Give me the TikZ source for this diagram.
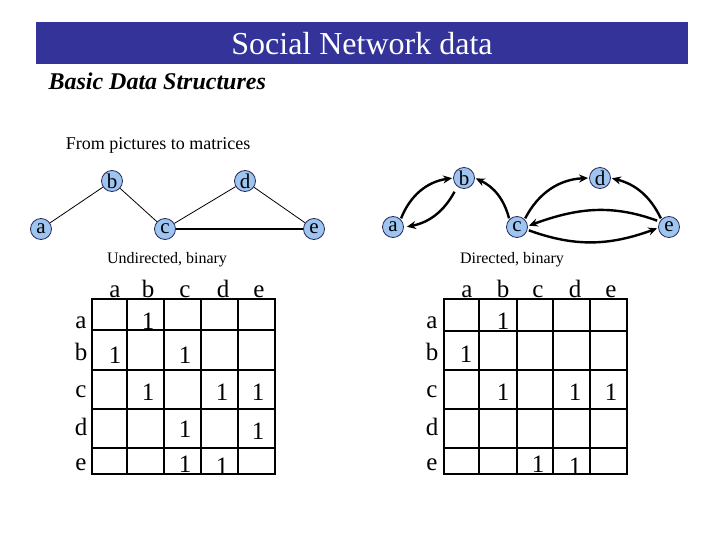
\documentclass[tikz,border=0pt]{standalone}
\usepackage{fontspec}
\setmainfont{Liberation Serif}
\usetikzlibrary{arrows.meta}
\definecolor{banner}{RGB}{51,51,153}
\definecolor{nodefill}{RGB}{158,197,240}
\definecolor{nodeedge}{RGB}{40,40,90}
\tikzset{
  vert/.style={circle,draw=nodeedge,line width=0.8pt,fill=nodefill,minimum size=21pt,inner sep=0pt,font=\fontsize{21}{21}\selectfont},
  uedge/.style={line width=0.8pt,black},
  darrow/.style={line width=2.4pt,black,-{Stealth[length=9pt,width=8pt]},shorten >=1pt,shorten <=1pt},
  mlabel/.style={font=\fontsize{25}{25}\selectfont,inner sep=0pt,anchor=base},
  mone/.style={font=\fontsize{25}{25}\selectfont,inner sep=0pt,anchor=base},
  grid/.style={line width=1.1pt,black}
}
\begin{document}
\begin{tikzpicture}[x=1pt,y=-1pt]
\useasboundingbox (0,0) rectangle (720,540);
% banner
\fill[banner] (36,22) rectangle (688,64);
\node[text=white,font=\fontsize{32}{32}\selectfont] (title) at (362,44) {Social Network data};
\node[font=\fontsize{24}{24}\selectfont\bfseries\itshape,anchor=west] (sub) at (45,81) {Basic Data Structures};
\node[font=\fontsize{18}{18}\selectfont] (from) at (158,145) {From pictures to matrices};
% undirected graph
\node[vert] (ua) at (41,229) {a};
\node[vert] (ub) at (112,181) {b};
\node[vert] (uc) at (165,229) {c};
\node[vert] (ud) at (245,181) {d};
\node[vert] (ue) at (314,229) {e};
\draw[uedge] (ua) -- (ub);
\draw[uedge] (ub) -- (uc);
\draw[uedge] (uc) -- (ud);
\draw[uedge] (ud) -- (ue);
\draw[uedge,line width=1.2pt] (uc) -- (ue);
\node[font=\fontsize{16}{16}\selectfont] (ulab) at (167,260) {Undirected, binary};
% directed graph
\node[vert] (da) at (393,227) {a};
\node[vert] (db) at (464,178) {b};
\node[vert] (dc) at (517,227) {c};
\node[vert] (dd) at (600,178) {d};
\node[vert] (de) at (669,227) {e};
\draw[darrow] (da.north east) to[bend left=30] (db.west);
\draw[darrow] ([xshift=-9pt,yshift=-2pt]db.south) to[bend left=25] ([xshift=2pt]da.east);
\draw[darrow] (dc.north west) to[bend right=25] (db.east);
\draw[darrow] (dc.north east) to[bend left=30] (dd.west);
\draw[darrow] (de.north west) to[bend right=25] (dd.east);
\draw[darrow] ([yshift=6pt]de.west) to[out=160,in=20] ([yshift=1pt]dc.east);
\draw[darrow] ([yshift=-3pt]dc.east) to[out=-20,in=200] ([yshift=-1pt]de.west);
\node[font=\fontsize{16}{16}\selectfont] (dlab) at (512,260) {Directed, binary};
% undirected matrix
\draw[grid] (92,299) rectangle (275,474);
\foreach \x in {127,164,201,238} \draw[grid] (\x,299) -- (\x,474);
\foreach \y in {330,370,409,448} \draw[grid] (92,\y) -- (275,\y);
\foreach \l/\x in {a/115,b/148,c/185,d/223,e/259} \node[mlabel] (uc\l) at (\x,297) {\l};
\foreach \l/\y in {a/328,b/360,c/397,d/435,e/470} \node[mlabel] (ur\l) at (81,\y) {\l};
\foreach \x/\y in {148/329,115/363,185/363,148/400,222/400,258/400,185/437,258/439,185/472,222/474}
  \node[mone] at (\x,\y) {1};
% directed matrix
\draw[grid] (444,299) rectangle (627,474);
\foreach \x in {479,517,553,590} \draw[grid] (\x,299) -- (\x,474);
\foreach \y in {331,370,409,448} \draw[grid] (444,\y) -- (627,\y);
\foreach \l/\x in {a/467,b/503,c/538,d/575,e/611} \node[mlabel] (dc\l) at (\x,297) {\l};
\foreach \l/\y in {a/328,b/360,c/397,d/435,e/470} \node[mlabel] (dr\l) at (432,\y) {\l};
\foreach \x/\y in {503/329,466/362,503/400,575/400,611/400,538/472,575/474}
  \node[mone] at (\x,\y) {1};
\end{tikzpicture}
\end{document}
